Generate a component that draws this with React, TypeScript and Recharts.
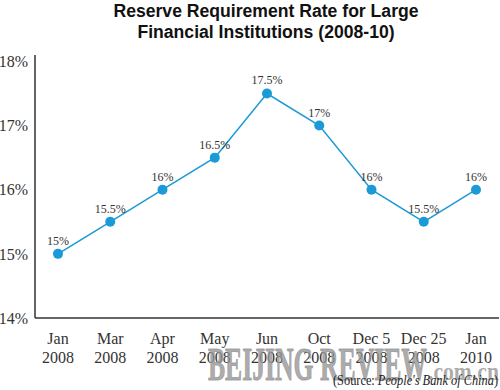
import React from 'react';
import { LineChart, Line, XAxis, YAxis, LabelList } from 'recharts';

const months = ['Jan', 'Mar', 'Apr', 'May', 'Jun', 'Oct', 'Dec 5', 'Dec 25', 'Jan'];
const years = ['2008', '2008', '2008', '2008', '2008', '2008', '2008', '2008', '2010'];
const rates = [15, 15.5, 16, 16.5, 17.5, 17, 16, 15.5, 16];
const rateLabels = ['15%', '15.5%', '16%', '16.5%', '17.5%', '17%', '16%', '15.5%', '16%'];
const yTicks = [14, 15, 16, 17, 18];

const data = months.map((m, i) => ({
  key: String(i),
  month: m,
  year: years[i],
  rate: rates[i],
  label: rateLabels[i],
}));

const SERIF = '"Liberation Serif", "DejaVu Serif", serif';

const XTick = (props: any) => {
  const { x, y, payload } = props;
  const d = data[payload.index] || data[Number(payload.value)];
  return (
    <g>
      <text x={x} y={y + 18} textAnchor="middle" fontFamily={SERIF} fontSize={16} fill="#333">
        {d.month}
      </text>
      <text x={x} y={y + 37} textAnchor="middle" fontFamily={SERIF} fontSize={16} fill="#333">
        {d.year}
      </text>
    </g>
  );
};

export default function App() {
  return (
    <div style={{ position: 'absolute', left: 0, top: 0, width: 500, height: 390, background: '#fff', overflow: 'hidden' }}>
      <div
        style={{
          position: 'absolute',
          left: 0,
          top: 1,
          width: 532,
          textAlign: 'center',
          fontFamily: '"Liberation Sans", Arial, sans-serif',
          fontWeight: 'bold',
          fontSize: 17.6,
          lineHeight: '21px',
          color: '#111',
        }}
      >
        Reserve Requirement Rate for Large
        <br />
        Financial Institutions (2008-10)
      </div>
      <LineChart width={500} height={390} data={data} margin={{ top: 55, right: 1, left: 0, bottom: 0 }}>
        <XAxis
          dataKey="key"
          height={72}
          padding={{ left: 23, right: 23 }}
          tickLine={false}
          axisLine={{ stroke: '#333', strokeWidth: 1.5 }}
          tick={<XTick />}
          interval={0}
        />
        <YAxis
          width={35}
          domain={[14, 18.1]}
          ticks={yTicks}
          tickLine={false}
          tickSize={0}
          tickMargin={7}
          axisLine={{ stroke: '#333', strokeWidth: 1.5 }}
          tickFormatter={(v: number) => `${v}%`}
          tick={{ fontFamily: SERIF, fontSize: 16, fill: '#333' }}
          allowDataOverflow
        />
        <Line
          type="linear"
          dataKey="rate"
          stroke="#1a9ad6"
          strokeWidth={1.5}
          dot={{ r: 5, fill: '#1a9ad6', stroke: '#1a9ad6', strokeWidth: 0 }}
          isAnimationActive={false}
        >
          <LabelList dataKey="label" position="top" offset={9} style={{ fontFamily: SERIF, fontSize: 12, fill: '#333' }} />
        </Line>
      </LineChart>
      <svg width={500} height={390} style={{ position: 'absolute', left: 0, top: 0, pointerEvents: 'none' }}>
        <text
          x={208}
          y={380}
          fontFamily={SERIF}
          fontWeight="bold"
          fontSize={46}
          fill="rgba(150,150,150,0.8)"
          stroke="rgba(150,150,150,0.8)"
          strokeWidth={1}
          textLength={219}
          lengthAdjust="spacingAndGlyphs"
        >
          BEIJING REVIEW
        </text>
        <text
          x={428}
          y={380}
          fontFamily={SERIF}
          fontWeight="bold"
          fontSize={26}
          fill="rgba(150,150,150,0.8)"
          textLength={71}
          lengthAdjust="spacingAndGlyphs"
        >
          .com.cn
        </text>
        <text x={333} y={385} fontFamily={SERIF} fontSize={14} fill="#222" textLength={165} lengthAdjust="spacingAndGlyphs">
          (Source: <tspan fontStyle="italic">People&apos;s Bank of China</tspan>)
        </text>
      </svg>
    </div>
  );
}
